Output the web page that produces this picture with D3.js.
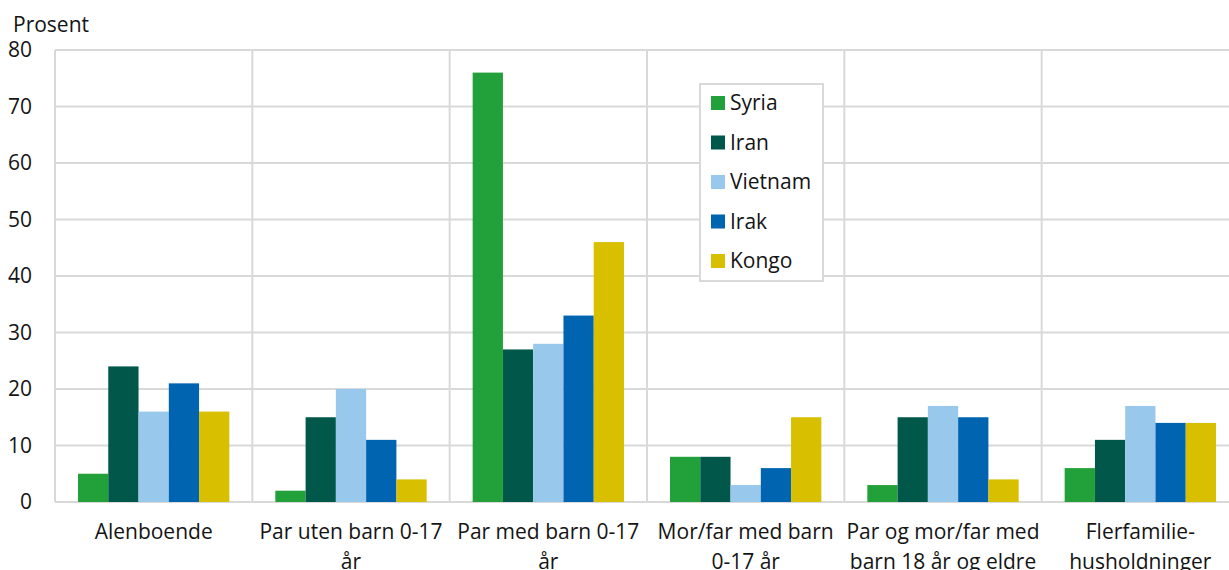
<!DOCTYPE html>
<html>
<head>
<meta charset="utf-8">
<script src="https://cdn.jsdelivr.net/npm/d3@7"></script>
<style>
  body { margin: 0; background: #fff; }
  svg text { font-family: "Open Sans", sans-serif; fill: #141414; }
</style>
</head>
<body>
<div id="chart"></div>
<script>
// ── Data ──
const categories = [
  "Alenboende",
  "Par uten barn 0-17 år",
  "Par med barn 0-17 år",
  "Mor/far med barn 0-17 år",
  "Par og mor/far med barn 18 år og eldre",
  "Flerfamilie-husholdninger"
];
const categoryLines = [
  ["Alenboende"],
  ["Par uten barn 0-17", "år"],
  ["Par med barn 0-17", "år"],
  ["Mor/far med barn", "0-17 år"],
  ["Par og mor/far med", "barn 18 år og eldre"],
  ["Flerfamilie-", "husholdninger"]
];
const seriesNames = ["Syria", "Iran", "Vietnam", "Irak", "Kongo"];
const seriesColors = ["#22a13a", "#00574a", "#98c8ec", "#0064b0", "#d8bf00"];

const syria   = [5, 2, 76, 8, 3, 6];
const iran    = [24, 15, 27, 8, 15, 11];
const vietnam = [16, 20, 28, 3, 17, 17];
const irak    = [21, 11, 33, 6, 15, 14];
const kongo   = [16, 4, 46, 15, 4, 14];
const seriesValues = [syria, iran, vietnam, irak, kongo];

const yTicks = [0, 10, 20, 30, 40, 50, 60, 70, 80];

// ── Layout ──
const W = 1229, H = 570;
const M = { top: 50, right: -10, bottom: 68, left: 55 };
const GRID = "#d9d9d9";
const FS = "21px";

const svg = d3.select("#chart").append("svg")
  .attr("width", W).attr("height", H);

const x0 = d3.scaleBand()
  .domain(categories)
  .range([M.left, W - M.right])
  .paddingInner(0).paddingOuter(0);

const x1 = d3.scaleBand()
  .domain(seriesNames)
  .range([0, x0.bandwidth()])
  .paddingOuter(0.76).paddingInner(0);

const y = d3.scaleLinear()
  .domain([0, 80])
  .range([H - M.bottom, M.top]);

// ── Gridlines ──
svg.append("g").selectAll("line")
  .data(yTicks)
  .join("line")
  .attr("x1", M.left).attr("x2", W - M.right)
  .attr("y1", d => y(d)).attr("y2", d => y(d))
  .attr("stroke", GRID).attr("stroke-width", 2);

svg.append("g").selectAll("line")
  .data(categories)
  .join("line")
  .attr("x1", d => x0(d)).attr("x2", d => x0(d))
  .attr("y1", y(80)).attr("y2", y(0))
  .attr("stroke", GRID).attr("stroke-width", 2);

// ── Bars ──
const groups = svg.append("g").selectAll("g")
  .data(categories)
  .join("g")
  .attr("transform", d => `translate(${x0(d)},0)`);

groups.selectAll("rect")
  .data((c, ci) => seriesNames.map((s, si) => ({ s, si, v: seriesValues[si][ci] })))
  .join("rect")
  .attr("x", d => x1(d.s))
  .attr("width", x1.bandwidth())
  .attr("y", d => y(d.v))
  .attr("height", d => y(0) - y(d.v))
  .attr("fill", d => seriesColors[d.si]);

// ── Y axis labels ──
svg.append("g").selectAll("text")
  .data(yTicks)
  .join("text")
  .attr("x", 32)
  .attr("y", d => y(d) + 7)
  .attr("text-anchor", "end")
  .style("font-size", FS)
  .text(d => d);

svg.append("text")
  .attr("x", 13).attr("y", 32)
  .style("font-size", FS)
  .text("Prosent");

// ── X labels ──
categories.forEach((c, i) => {
  const t = svg.append("text")
    .attr("x", x0(c) + x0.bandwidth() / 2)
    .attr("y", 539)
    .attr("text-anchor", "middle")
    .style("font-size", FS);
  categoryLines[i].forEach((line, li) => {
    t.append("tspan")
      .attr("x", x0(c) + x0.bandwidth() / 2)
      .attr("dy", li === 0 ? 0 : 30)
      .text(line);
  });
});

// ── Legend ──
const lg = svg.append("g").attr("transform", "translate(700,84)");
lg.append("rect")
  .attr("x", 0).attr("y", 0)
  .attr("width", 123).attr("height", 197)
  .attr("fill", "#fff")
  .attr("stroke", GRID).attr("stroke-width", 2);

seriesNames.forEach((s, i) => {
  const cy = 19 + i * 39.5;
  lg.append("rect")
    .attr("x", 11).attr("y", cy - 7)
    .attr("width", 14).attr("height", 14)
    .attr("fill", seriesColors[i]);
  lg.append("text")
    .attr("x", 30).attr("y", cy + 7)
    .style("font-size", FS)
    .text(s);
});
</script>
</body>
</html>
